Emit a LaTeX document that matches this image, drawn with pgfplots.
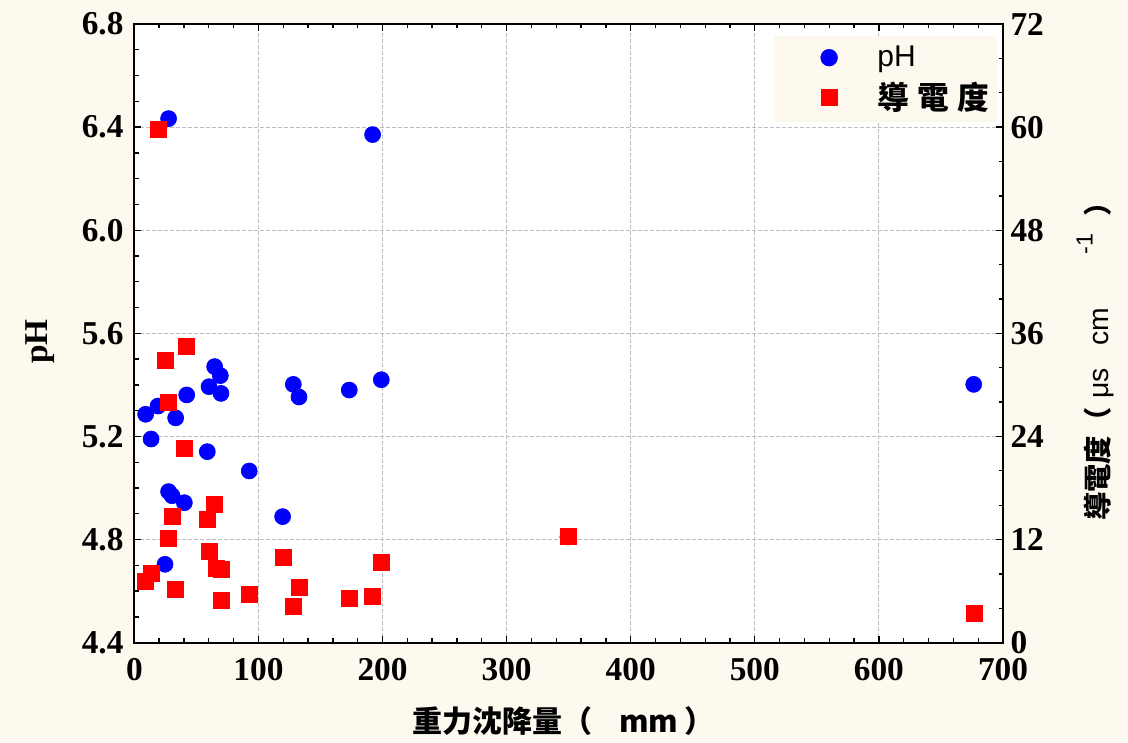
\documentclass[border=0pt]{standalone}
\usepackage{fontspec}
\setmainfont{Liberation Serif}
\newfontfamily\cjk{Noto Sans CJK TC}
\newfontfamily\lsans{Liberation Sans}
\usepackage{pgfplots}
\pgfplotsset{compat=1.18}
\definecolor{cream}{RGB}{253,249,239}
\definecolor{gridgray}{RGB}{190,190,190}
\pgfplotstableread{
x ph
9.1 5.286
13.5 5.190
19.1 5.318
24.7 4.704
27.6 6.433
27.6 4.986
30.4 4.970
33.3 5.272
40.3 4.943
42.2 5.361
58.8 5.141
60.2 5.393
64.7 5.471
69.3 5.436
69.8 5.367
92.6 5.066
119.5 4.889
128.1 5.402
132.7 5.353
173.2 5.380
192.0 6.371
199.0 5.420
349.4 4.810
676.4 5.402
}\phdata
\pgfplotstableread{
x ec
9.1 7.1
13.5 8.1
19.3 59.7
25.0 32.9
27.6 28.0
27.6 12.1
30.9 14.7
33.3 6.2
40.5 22.6
41.9 34.5
58.6 14.4
60.4 10.6
64.7 16.1
66.1 8.7
70.1 8.5
70.1 4.9
92.9 5.6
119.8 9.9
128.3 4.2
132.7 6.4
173.4 5.2
192.0 5.4
199.0 9.4
349.4 12.4
676.7 3.4
}\ecdata
\begin{document}
\begin{tikzpicture}
\path[use as bounding box, fill=cream] (0,0) rectangle (676.8pt,445.2pt);
\pgfplotsset{
  common/.style={
    at={(80.6pt,59.6pt)}, anchor=south west,
    scale only axis, width=521.2pt, height=371.2pt,
    xmin=0, xmax=700,
    axis line style={line width=1.2pt},
    tick style={line width=0.8pt, black},
    major tick length=4pt, minor tick length=2.6pt,
    tick align=inside,
    /pgf/number format/assume math mode=true,
    ticklabel style={font=\fontsize{20}{24}\selectfont\bfseries},
  }
}
\begin{axis}[common,
  axis background/.style={fill=white},
  ymin=4.4, ymax=6.8,
  ytick={4.4,4.8,5.2,5.6,6.0,6.4,6.8},
  minor y tick num=3,
  xtick={0,100,200,300,400,500,600,700},
  minor x tick num=4,
  xtick pos=both, ytick pos=left,
  grid=major,
  major grid style={gridgray, dash pattern=on 2pt off 1.6pt, line width=0.6pt},
  yticklabel style={/pgf/number format/fixed, /pgf/number format/fixed zerofill, /pgf/number format/precision=1, xshift=-3pt},
  xticklabel style={yshift=-6pt},
  xlabel={\cjk\bfseries 重力沈降量（\hspace{0.9em}mm\hspace{0.2em}）},
  xlabel style={at={(rel axis cs:0.494,-0.127)}, anchor=center, font=\fontsize{18}{21}\selectfont},
  ylabel={\bfseries pH},
  ylabel style={at={(rel axis cs:-0.108,0.487)}, anchor=center, font=\fontsize{20}{24}\selectfont},
]
\addplot[only marks, mark=*, mark size=4.8pt, mark options={draw=blue, fill=blue, line width=0.4pt}] table[x=x, y=ph] {\phdata};
\end{axis}
\begin{axis}[common,
  ymin=0, ymax=72,
  ytick={0,12,24,36,48,60,72},
  minor y tick num=2,
  hide x axis,
  axis y line*=right,
  yticklabel style={xshift=1pt},
  ylabel={\cjk\bfseries 導電度（\hspace{0.3em}\lsans\mdseries μs\hspace{0.8em}cm\hspace{1.9em}\raisebox{0.55em}{\fontsize{14}{16}\selectfont -1}\hspace{0.6em}\cjk\bfseries ）},
  ylabel style={at={(rel axis cs:1.106,0.466)}, anchor=center, font=\fontsize{17}{20}\selectfont},
  legend cell align=left,
  legend image code/.code={\path[draw=none, fill=none] (-30pt,-6pt) rectangle (12pt,6pt); \draw[#1] plot coordinates {(0pt,0pt)};},
  legend style={at={(rel axis cs:0.994,0.981)}, anchor=north east, fill=cream, draw=none,
    font=\fontsize{18}{21}\selectfont, inner xsep=3pt, inner ysep=4pt, row sep=4pt,
    nodes={inner sep=2pt},
    /tikz/every odd column/.append style={column sep=15pt}},
]
\addlegendimage{only marks, mark=*, mark size=5pt, mark options={draw=blue, fill=blue, line width=0.4pt}}
\addlegendentry{\lsans\fontsize{18}{21}\selectfont pH}
\addplot[only marks, mark=square*, mark size=4.8pt, mark options={draw=red, fill=red, line width=0.4pt}] table[x=x, y=ec] {\ecdata};
\addlegendentry{\cjk\bfseries\fontsize{19}{21}\selectfont 導\hspace{5pt}電\hspace{5pt}度}
\end{axis}
\end{tikzpicture}
\end{document}
